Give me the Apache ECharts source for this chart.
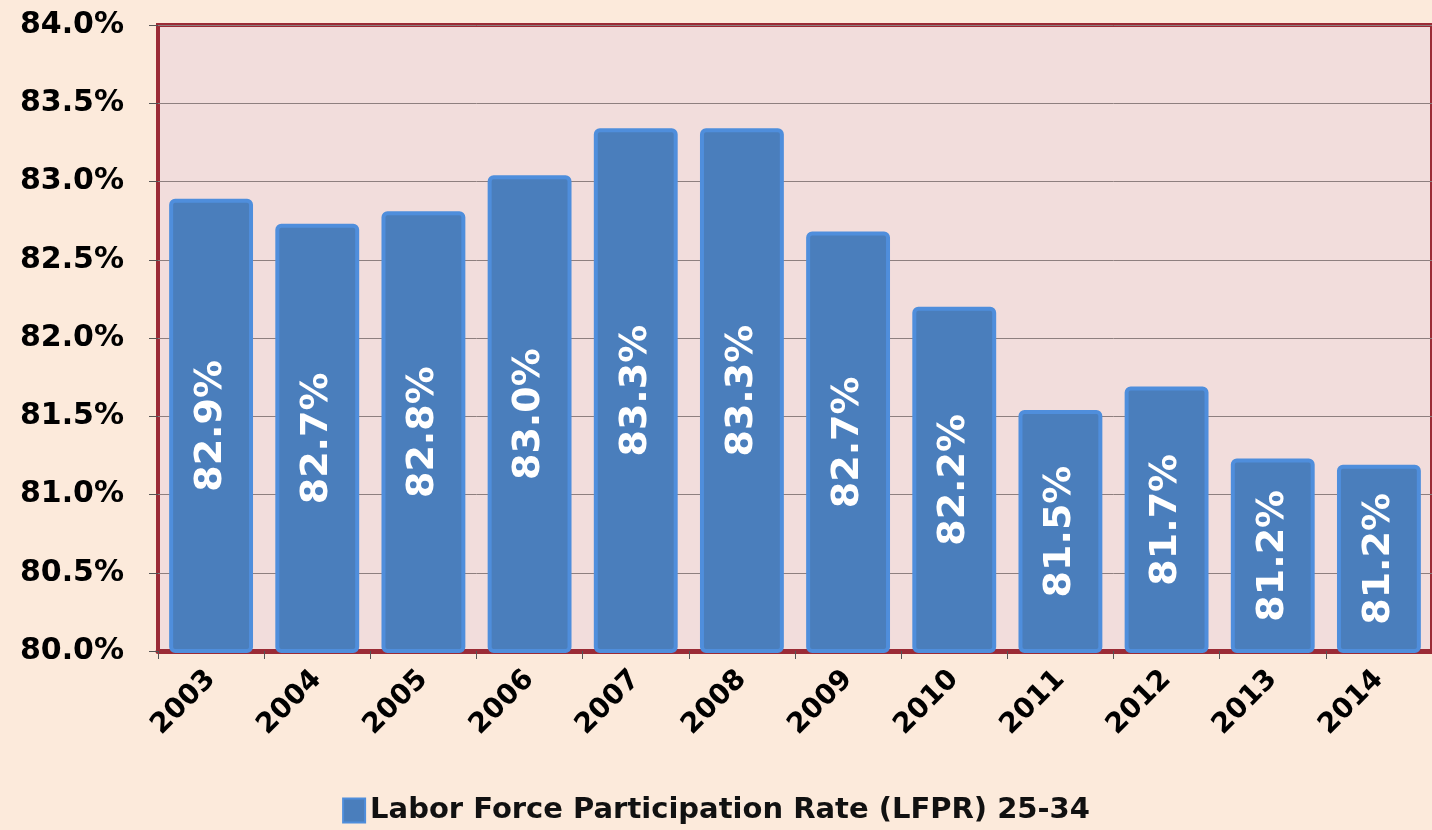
<!DOCTYPE html>
<html>
<head>
<meta charset="utf-8">
<script src="https://cdn.jsdelivr.net/npm/echarts@6/dist/echarts.min.js"></script>
<style>
  html, body { margin: 0; padding: 0; background: #FCEADB; }
  #chart { width: 1432px; height: 830px; }
</style>
</head>
<body>
<div id="chart"></div>
<script>
// data
const years = ['2003', '2004', '2005', '2006', '2007', '2008', '2009', '2010', '2011', '2012', '2013', '2014']
const lfpr = [82.89, 82.73, 82.81, 83.04, 83.34, 83.34, 82.68, 82.20, 81.54, 81.69, 81.23, 81.19]
const seriesName = 'Labor Force Participation Rate (LFPR) 25-34'

const font = '"DejaVu Sans", Verdana, sans-serif'
const chart = echarts.init(document.getElementById('chart'))

const option = {
    backgroundColor: '#FCEADB',
    textStyle: { fontFamily: font },
    grid: {
        left: 158,
        top: 25,
        right: -10,
        bottom: 179,
        show: true,
        backgroundColor: '#F2DDDC',
        borderColor: '#9B2B36',
        borderWidth: 4
    },
    legend: {
        show: true,
        bottom: 0,
        left: 'center',
        icon: 'rect',
        itemWidth: 22,
        itemHeight: 24,
        itemGap: 4,
        data: [seriesName],
        textStyle: {
            fontFamily: font,
            fontSize: 29,
            fontWeight: 'bold',
            color: '#111'
        }
    },
    xAxis: {
        type: 'category',
        data: years,
        axisLine: { show: true, lineStyle: { color: '#9B2B36', width: 5 } },
        axisTick: { show: true, length: 8, lineStyle: { color: '#555', width: 1 } },
        axisLabel: {
            rotate: 45,
            margin: 24,
            fontFamily: font,
            fontSize: 28,
            fontWeight: 'bold',
            color: '#000'
        }
    },
    yAxis: {
        type: 'value',
        min: 80,
        max: 84,
        interval: 0.5,
        axisLine: { show: false },
        axisTick: { show: true, length: 9, lineStyle: { color: '#555' } },
        splitLine: { show: true, lineStyle: { color: '#8E7F7F', width: 1 } },
        axisLabel: {
            margin: 34,
            fontFamily: font,
            fontSize: 30,
            fontWeight: 'bold',
            color: '#000',
            formatter: v => v.toFixed(1) + '%'
        }
    },
    series: [
        {
            name: seriesName,
            type: 'bar',
            data: lfpr,
            barCategoryGap: '21%',
            itemStyle: {
                color: '#4A7EBC',
                borderColor: '#4F8EDC',
                borderWidth: 4,
                borderRadius: 4
            },
            label: {
                show: true,
                position: 'inside',
                rotate: 90,
                fontFamily: font,
                fontSize: 38,
                fontWeight: 'bold',
                color: '#fff',
                formatter: p => p.value.toFixed(1) + '%'
            }
        }
    ]
}

chart.setOption(option)
</script>
</body>
</html>
